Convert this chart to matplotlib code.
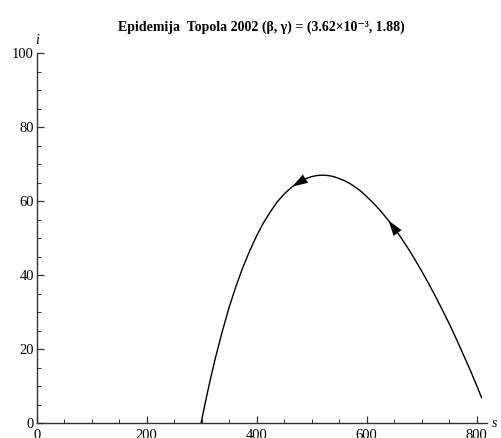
import matplotlib
matplotlib.use("Agg")
import matplotlib.pyplot as plt
from matplotlib.ticker import MultipleLocator

# ---------------- datos ----------------
# susceptibles (s) y infectados (i) a lo largo de la trayectoria
s_vals = [299, 305, 310, 318, 325, 337, 350, 362, 375, 387, 400, 412, 425,
          437, 450, 465, 475, 487, 500, 510, 520, 530, 540, 550, 560, 570,
          580, 590, 600, 612, 625, 640, 650, 662, 675, 687, 700, 712, 725,
          737, 750, 762, 775, 787, 800, 809]
i_vals = [0.0, 4.4, 7.9, 13.2, 17.6, 24.5, 31.3, 36.8, 42.1, 46.4, 50.6, 54.0,
          57.1, 59.7, 61.9, 63.9, 65.0, 65.9, 66.6, 66.9, 67.0, 66.9, 66.6,
          66.1, 65.5, 64.7, 63.7, 62.6, 61.2, 59.5, 57.4, 54.7, 52.8, 50.2,
          47.3, 44.4, 41.1, 37.9, 34.3, 30.8, 26.9, 23.1, 18.8, 14.8, 10.2, 6.9]

# puntos de la trayectoria donde van las flechas (la epidemia avanza hacia s menor)
flechas_s = [465, 640]

titulo = "Epidemija  Topola 2002 (\u03b2, \u03b3) = (3.62\u00d710\u207b\u00b3, 1.88)"
xticks = [0, 200, 400, 600, 800]
yticks = [0, 20, 40, 60, 80, 100]

# ---------------- figura ----------------
plt.rcParams['font.family'] = ['Liberation Serif', 'DejaVu Serif']
fig = plt.figure(figsize=(5.01, 4.38), dpi=100)
ax = fig.add_axes([0.0733, 0.0342, 0.8988, 0.8447])

ax.plot(s_vals, i_vals, color='black', lw=1.0)

# flechas sobre la curva
for sf in flechas_s:
    k = s_vals.index(sf)
    ax.annotate('', xy=(s_vals[k], i_vals[k]), xytext=(s_vals[k + 2], i_vals[k + 2]),
                arrowprops=dict(arrowstyle='-|>,head_length=0.5,head_width=0.16',
                                color='black', lw=0, mutation_scale=22,
                                shrinkA=0, shrinkB=0))

ax.set_xlim(0, 819)
ax.set_ylim(0, 100)

# ejes estilo Mathematica
for lado in ['top', 'right']:
    ax.spines[lado].set_visible(False)
for lado in ['left', 'bottom']:
    ax.spines[lado].set_color('#333333')
    ax.spines[lado].set_linewidth(1.0)

ax.set_xticks(xticks)
ax.set_yticks(yticks)
ax.xaxis.set_minor_locator(MultipleLocator(50))
ax.yaxis.set_minor_locator(MultipleLocator(5))
ax.tick_params(which='major', direction='in', length=5, width=0.9,
               colors='#333333', labelcolor='black', labelsize=10.5)
ax.tick_params(which='minor', direction='in', length=3, width=0.7, colors='#333333')
ax.tick_params(axis='x', pad=4)
ax.tick_params(axis='y', pad=2)

ax.set_title(titulo, fontsize=10, fontweight='bold', pad=16)

# etiquetas de ejes
ax.text(0, 101.5, 'i', style='italic', fontsize=10, ha='center', va='bottom')
ax.text(827, 0, 's', style='italic', fontsize=10, ha='left', va='center', clip_on=False)

fig.savefig('out.png', dpi=100)
